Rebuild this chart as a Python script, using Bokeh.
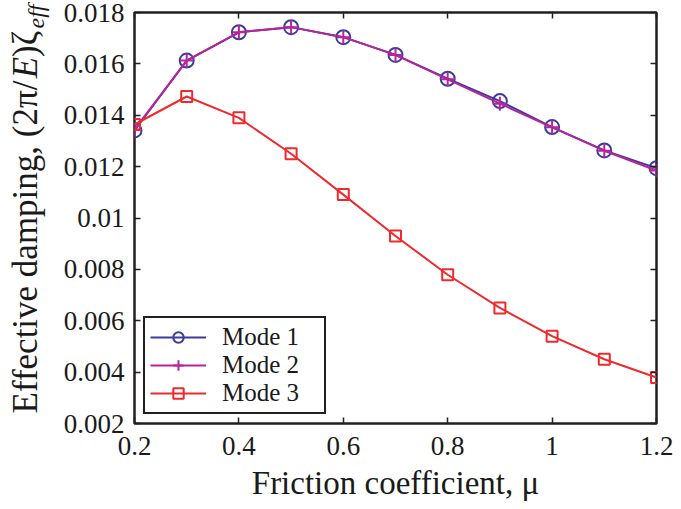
from bokeh.plotting import figure
from bokeh.models import (LinearAxis, FixedTicker, CustomJSTickFormatter,
                          Legend, LegendItem, Range1d, Title)
from bokeh.embed import file_html
from bokeh.resources import INLINE

# Effective damping versus friction coefficient for the first three modes
mu = [0.2, 0.3, 0.4, 0.5, 0.6, 0.7, 0.8, 0.9, 1.0, 1.1, 1.2]
mode1 = [0.01341, 0.01613, 0.01723, 0.01743, 0.01704, 0.01635, 0.01542, 0.01455, 0.01354, 0.01263, 0.01194]
mode2 = [0.01345, 0.01613, 0.01723, 0.01743, 0.01704, 0.01635, 0.01540, 0.01445, 0.01353, 0.01262, 0.01185]
mode3 = [0.01364, 0.01473, 0.01390, 0.01250, 0.01091, 0.00930, 0.00779, 0.00650, 0.00540, 0.00450, 0.00379]

x_ticks = [0.2, 0.4, 0.6, 0.8, 1.0, 1.2]
y_ticks = [0.002, 0.004, 0.006, 0.008, 0.010, 0.012, 0.014, 0.016, 0.018]

SERIF = "Liberation Serif"
INK = "#231f20"
TXT = "#1a1a1a"
C1, C2, C3 = "#3a3d9e", "#b9239a", "#ee2a2e"

p = figure(width=681, height=509, output_backend="svg", toolbar_location=None,
           x_range=Range1d(0.2, 1.2), y_range=Range1d(0.002, 0.018),
           min_border_left=134, min_border_right=25, min_border_top=12,
           min_border_bottom=86)
p.grid.visible = False
p.background_fill_color = "white"
p.border_fill_color = "white"
p.outline_line_color = INK
p.outline_line_width = 2.5

fmt = CustomJSTickFormatter(code="return String(parseFloat(tick.toFixed(4)));")


def style_axis(ax, ticks, show_labels):
    ax.ticker = FixedTicker(ticks=ticks)
    ax.formatter = fmt
    ax.axis_line_color = None
    ax.major_tick_line_color = INK
    ax.major_tick_line_width = 1.5
    ax.major_tick_in = 6
    ax.major_tick_out = 0
    ax.minor_tick_line_color = None
    if show_labels:
        ax.major_label_text_font = SERIF
        ax.major_label_text_font_size = "27px"
        ax.major_label_text_color = TXT
    else:
        ax.major_label_text_font_size = "0px"
        ax.major_label_text_color = None
        ax.major_label_standoff = 0


xa = p.xaxis[0]
ya = p.yaxis[0]
style_axis(xa, x_ticks, True)
style_axis(ya, y_ticks, True)
xa.major_label_standoff = 13
ya.major_label_standoff = 10
xa.axis_label = "Friction coefficient, μ"
xa.axis_label_text_font = SERIF
xa.axis_label_text_font_size = "33px"
xa.axis_label_text_font_style = "normal"
xa.axis_label_text_color = TXT
xa.axis_label_standoff = 7

top = LinearAxis()
right = LinearAxis()
style_axis(top, x_ticks, False)
style_axis(right, y_ticks, False)
p.add_layout(top, "above")
p.add_layout(right, "right")

# Data series
l1 = p.line(mu, mode1, line_color=C1, line_width=2)
s1 = p.scatter(mu, mode1, marker="circle", size=14, line_color=C1,
               fill_color=None, line_width=2)
l2 = p.line(mu, mode2, line_color=C2, line_width=2)
s2 = p.scatter(mu, mode2, marker="cross", size=14, line_color=C2, line_width=2)
l3 = p.line(mu, mode3, line_color=C3, line_width=2)
s3 = p.scatter(mu, mode3, marker="square", size=11, line_color=C3,
               fill_color=None, line_width=2)

legend = Legend(items=[LegendItem(label="Mode 1", renderers=[l1, s1]),
                       LegendItem(label="Mode 2", renderers=[l2, s2]),
                       LegendItem(label="Mode 3", renderers=[l3, s3])],
                location=(9, 9), orientation="vertical")
legend.label_text_font = SERIF
legend.label_text_font_size = "25px"
legend.label_text_color = TXT
legend.glyph_width = 56
legend.glyph_height = 26
legend.label_height = 26
legend.label_width = 97
legend.label_standoff = 16
legend.spacing = 0
legend.padding = 5
legend.margin = 0
legend.border_line_color = INK
legend.border_line_width = 2.5
legend.border_line_alpha = 1.0
legend.background_fill_color = "white"
legend.background_fill_alpha = 1.0
p.add_layout(legend, "center")

# Vertical axis title, set in pieces (italic E and zeta, "eff" subscript).
# A blank spacer moves the pieces out from the tick labels; the pieces that
# follow have zero thickness so they share one column.
p.add_layout(Title(text=" ", text_font_size="10px", standoff=23), "left")
pieces = [
    ("Effective damping, (2π/", 10.0, "35px", "normal", -41),
    ("E", 345.2, "35px", "italic", -41),
    (")ζ", 366.6, "35px", "normal", -41),
    ("eff", 395.0, "24px", "italic", -48),
]
for txt, off, size, style, so in pieces:
    p.add_layout(Title(text=txt, align="left", offset=off, standoff=so,
                       text_font=SERIF, text_font_size=size,
                       text_font_style=style, text_color=TXT,
                       vertical_align="bottom"), "left")

open("out.html", "w").write(file_html(p, INLINE))
